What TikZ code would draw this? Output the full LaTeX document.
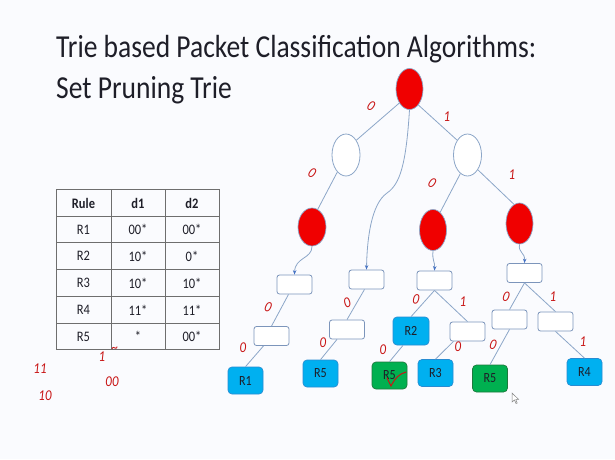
\documentclass[tikz,border=0pt]{standalone}
\usepackage{fontspec}
\setmainfont{Carlito}[FakeStretch=0.86]
\usetikzlibrary{shapes.geometric,arrows.meta}
\definecolor{bgc}{RGB}{250,251,254}
\definecolor{edgeblue}{RGB}{140,166,200}
\definecolor{arrowblue}{RGB}{68,114,196}
\definecolor{boxline}{RGB}{124,149,187}
\definecolor{nodered}{RGB}{240,0,0}
\definecolor{leafblue}{RGB}{0,176,240}
\definecolor{leafline}{RGB}{40,140,210}
\definecolor{leafgreen}{RGB}{0,176,80}
\definecolor{greenline}{RGB}{30,120,60}
\definecolor{inkred}{RGB}{200,20,20}
\definecolor{tabline}{RGB}{110,110,110}
\definecolor{txt}{RGB}{30,30,40}
\begin{document}
\begin{tikzpicture}[x=1pt,y=-1pt,
  titletext/.style={inner sep=0pt,text=txt,font=\fontsize{32}{38}\selectfont},
  rnode/.style={ellipse,inner sep=0pt,fill=nodered,draw=edgeblue,line width=0.7pt,minimum width=27pt,minimum height=41pt},
  wnode/.style={ellipse,inner sep=0pt,fill=white,draw=edgeblue,line width=0.8pt,minimum width=28pt,minimum height=42pt},
  wbox/.style={rectangle,rounded corners=2.5pt,fill=white,draw=boxline,line width=0.8pt,minimum width=35pt,minimum height=19pt,inner sep=0pt},
  bleaf/.style={rectangle,rounded corners=4pt,fill=leafblue,draw=leafline,line width=0.7pt,minimum width=35pt,minimum height=27pt,inner sep=0pt,text=txt,font=\fontsize{14}{16}\selectfont},
  gleaf/.style={bleaf,fill=leafgreen,draw=greenline},
  edge/.style={draw=edgeblue,line width=0.8pt},
  arr/.style={edge,-{Stealth[length=4.5pt,width=3.5pt,color=arrowblue]}},
  hw/.style={inner sep=0pt,text=inkred,font=\fontsize{15}{17}\selectfont\itshape},
  cell/.style={inner sep=0pt,text=txt,font=\fontsize{14.5}{16}\selectfont},
  hcell/.style={cell,font=\fontsize{14.5}{16}\selectfont\bfseries},
  tab/.style={draw=tabline,line width=0.8pt}
]
\useasboundingbox (0,0) rectangle (615,459);
\fill[bgc] (0,0) rectangle (615,459);

% title
\node[titletext,anchor=base west] (title1) at (56,57) {Trie based Packet Classification Algorithms:};
\node[titletext,anchor=base west] (title2) at (56,98) {Set Pruning Trie};

% table
\draw[tab] (56,189) rectangle (219,349);
\foreach \yy in {216,242,269,296,323} \draw[tab] (56,\yy) -- (219,\yy);
\foreach \xx in {111,165} \draw[tab] (\xx,189) -- (\xx,349);
\node[hcell] (h1) at (83.5,203) {Rule};
\node[hcell] (h2) at (138,203) {d1};
\node[hcell] (h3) at (192,203) {d2};
\foreach \r/\yy/\a/\b in {1/229.5/00*/00*, 2/256/10*/0*, 3/283/10*/10*, 4/310/11*/11*, 5/336.5/*/00*}{
  \node[cell] (r\r c1) at (83.5,\yy) {R\r};
  \node[cell] (r\r c2) at (138,\yy) {\a};
  \node[cell] (r\r c3) at (192,\yy) {\b};
}

% trie nodes
\node[rnode] (root) at (409.5,89) {};
\node[wnode] (lw) at (346,155) {};
\node[wnode] (rw) at (467.5,155) {};
\node[rnode,minimum height=38pt,minimum width=28pt] (lr) at (312,227) {};
\node[rnode] (mr) at (433,230) {};
\node[rnode] (rr) at (519.5,223.5) {};

\node[wbox] (A) at (294.5,284.5) {};
\node[wbox] (B) at (366.5,279.5) {};
\node[wbox] (C) at (434.5,280.5) {};
\node[wbox] (D) at (524.5,273) {};
\node[wbox] (A2) at (271.5,336) {};
\node[wbox] (B2) at (347,329.5) {};
\node[bleaf,minimum width=36pt,minimum height=28pt] (R2) at (411,331) {R2};
\node[wbox] (C2) at (467.5,331.5) {};
\node[wbox] (D1) at (509.5,319.5) {};
\node[wbox] (D2) at (555.5,321.5) {};

\node[bleaf] (R1) at (245.5,380.5) {R1};
\node[bleaf] (R5a) at (320.5,373.5) {R5};
\node[gleaf] (R5b) at (389.5,375.5) {R5};
\node[bleaf] (R3) at (435.5,373) {R3};
\node[gleaf] (R5c) at (490,378.5) {R5};
\node[bleaf] (R4) at (584.5,372) {R4};

% edges
\draw[edge] (root.234) -- (lw.55);
\draw[edge] (root.299) -- (rw.125);
\draw[edge] (lw.243) -- (lr.72);
\draw[edge] (rw.249) -- (mr.68);
\draw[edge] (rw.305) -- (rr.106);
\draw[arr] (root.south) .. controls (406,165) and (400,184) .. (387,193) .. controls (371,204) and (367,240) .. (B.north);
\draw[arr] (lr.south) .. controls (312,259) and (295,257) .. (A.north);
\draw[arr] (mr.south) .. controls (432,261) and (435,261) .. (C.north);
\draw[arr] (rr.south) .. controls (518,253) and (525,252) .. (D.north);

\draw[edge] ([xshift=-6pt]A.south) -- (A2.north);
\draw[edge] ([xshift=-8pt]A2.south) -- (R1.north);
\draw[edge] ([xshift=-2pt]B.south) -- (B2.north);
\draw[edge] ([xshift=-10pt]B2.south) -- (R5a.north);
\draw[edge] (C.south) -- (R2.north);
\draw[edge] (C.south) -- (C2.north);
\draw[edge] ([xshift=-8pt]R2.south) -- (R5b.north);
\draw[edge] ([xshift=-14pt]C2.south) -- (R3.north);
\draw[edge] (D.south) -- (D1.north);
\draw[edge] (D.south) -- (D2.north);
\draw[edge] (D1.south) -- (R5c.north);
\draw[edge] (D2.south) -- (R4.north);

% handwritten labels
\node[hw,rotate=-30] (e1) at (371,106) {0};
\node[hw] (e2) at (447,117) {1};
\node[hw,rotate=-30] (e3) at (312,173) {0};
\node[hw,rotate=-30] (e4) at (432,183) {0};
\node[hw] (e5) at (512,175) {1};
\node[hw,rotate=-20] (e6) at (268,307) {0};
\node[hw] (e7) at (243,348) {0};
\node[hw,rotate=20] (e8) at (347,303) {0};
\node[hw] (e9) at (323,343) {0};
\node[hw,rotate=-10] (e10) at (416,299) {0};
\node[hw] (e11) at (463,302) {1};
\node[hw] (e12) at (383,350) {0};
\node[hw] (e13) at (458,347) {0};
\node[hw,rotate=-15] (e14) at (506,297) {0};
\node[hw] (e15) at (553,297) {1};
\node[hw,rotate=-15] (e16) at (493,345) {0};
\node[hw] (e17) at (583,342) {1};

\node[hw] (n1) at (40,369) {11};
\node[hw] (n2) at (45,396) {10};
\node[hw] (n3) at (102,357) {1};
\node[hw] (n4) at (115,350) {\textasciitilde};
\node[hw] (n5) at (112,382) {00};

% check mark on R5
\draw[inkred,line width=1pt,line cap=round] (387,378) -- (391,386) .. controls (395,378) and (399,374) .. (406,372);

% mouse cursor
\draw[gray,line width=0.5pt,fill=white] (512,393) -- (512,402) -- (514.5,400) -- (516,403.5) -- (517.2,403) -- (515.8,399.6) -- (518.5,399.3) -- cycle;
\end{tikzpicture}
\end{document}
